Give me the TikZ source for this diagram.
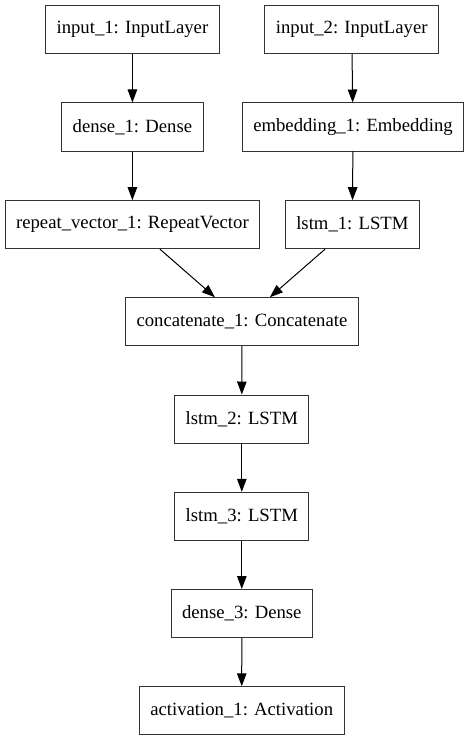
\documentclass[tikz,border=0pt]{standalone}
\usepackage{fontspec}
\setmainfont{Liberation Serif}
\newfontfamily\layerfont{Liberation Serif}
\usetikzlibrary{arrows.meta}
\usetikzlibrary{positioning}

\begin{document}
\begin{tikzpicture}[x=1pt,y=-1pt,->,>={Triangle[length=13pt,width=9.5pt]},
    layer node/.style={rectangle,draw=black!80,line width=1pt,minimum height=48pt,inner xsep=11pt,font=\layerfont\fontsize{18.7}{22}\selectfont}]
  \useasboundingbox (0,0) rectangle (472,741);
  % two inputs
  \node[layer node] (in1) at (132.4,29.5) {input\_1: InputLayer};
  \node[layer node] (in2) at (351.7,29.5) {input\_2: InputLayer};
  \node[layer node] (d1) at (132.4,127) {dense\_1: Dense};
  \node[layer node] (emb) at (353,127) {embedding\_1: Embedding};
  \node[layer node] (rv) at (132.4,224.7) {repeat\_vector\_1: RepeatVector};
  \node[layer node] (ls1) at (352.4,224.7) {lstm\_1: LSTM};
  % merged branch
  \node[layer node] (cat) at (241.9,321.7) {concatenate\_1: Concatenate};
  \node[layer node] (ls2) at (241.8,419) {lstm\_2: LSTM};
  \node[layer node] (ls3) at (241.8,516.3) {lstm\_3: LSTM};
  \node[layer node] (d3) at (241.8,613.5) {dense\_3: Dense};
  \node[layer node] (act) at (241.7,710.8) {activation\_1: Activation};
  \path[line width=1pt] (in1) edge (d1);
  \path[line width=1pt] (d1) edge (rv);
  \path[line width=1pt] (in2) edge (emb);
  \path[line width=1pt] (emb) edge (ls1);
  \path[line width=1pt] ([xshift=27.6pt]rv.south) edge ([xshift=-27pt]cat.north);
  \path[line width=1pt] ([xshift=-27.4pt]ls1.south) edge ([xshift=28pt]cat.north);
  \path[line width=1pt] (cat) edge (ls2);
  \path[line width=1pt] (ls2) edge (ls3);
  \path[line width=1pt] (ls3) edge (d3);
  \path[line width=1pt] (d3) edge (act);
\end{tikzpicture}
\end{document}
